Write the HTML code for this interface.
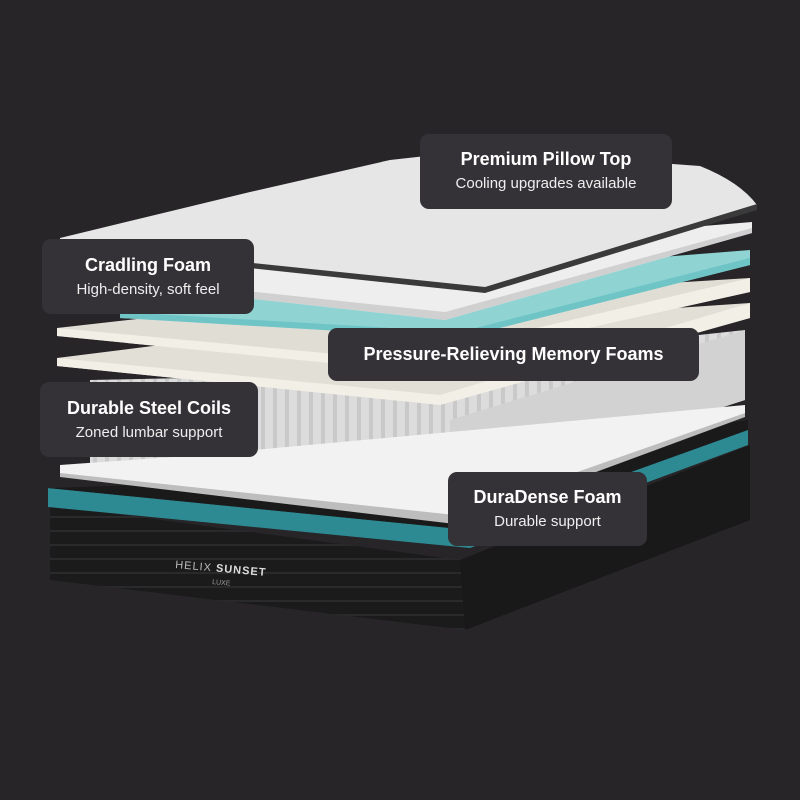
<!DOCTYPE html>
<html><head><meta charset="utf-8"><style>
html,body{margin:0;padding:0;background:#272528;}
.wrap{position:relative;width:800px;height:800px;overflow:hidden;background:#272528;font-family:"Liberation Sans",sans-serif;}
.lab{position:absolute;background:#343236;border-radius:9px;color:#fff;text-align:center;box-sizing:border-box;}
.lab b{display:block;font-size:18px;font-weight:bold;}
.lab span{display:block;font-size:15px;color:#eee;margin-top:5px;}
</style></head><body><div class="wrap">
<svg width="800" height="800" style="position:absolute;left:0;top:0">
<defs>
<pattern id="coil" width="12" height="10" patternUnits="userSpaceOnUse"><rect width="12" height="10" fill="#c9c9c9"/><rect x="1" width="8" height="10" fill="#dcdcdc"/></pattern>
<pattern id="blk" width="10" height="14" patternUnits="userSpaceOnUse"><rect width="10" height="14" fill="#1b1b1c"/><rect y="12" width="10" height="2" fill="#2a2a2c"/></pattern>
</defs>
<polygon points="50,505 460,560 750,445 750,520 465,630 50,580" fill="url(#blk)"/>
<polygon points="460,560 750,445 750,520 465,630" fill="#19191a"/>
<polygon points="48,488 470,530 748,425 748,445 470,548 48,507" fill="#2d8a93"/>
<polygon points="48,488 300,480 748,420 748,430 470,530" fill="#1a1a1b"/>
<text x="175" y="568" fill="#bbb" font-size="11" letter-spacing="1" transform="rotate(5 175 568)">HELIX <tspan font-weight="bold" fill="#ddd">SUNSET</tspan></text>
<text x="212" y="584" fill="#999" font-size="7" transform="rotate(5 212 584)">LUXE</text>
<polygon points="90,380 330,375 745,330 745,400 450,495 90,478" fill="url(#coil)"/>
<polygon points="450,420 745,330 745,400 450,495" fill="#d2d2d2"/>
<polygon points="60,465 200,455 745,405 745,415 455,522 60,475" fill="#f2f2f2"/>
<polygon points="60,473 455,515 745,413 745,417 455,524 60,477" fill="#bdbdbd"/>
<polygon points="57,358 200,340 750,303 750,318 440,405 57,366" fill="#e2dfd6"/>
<polygon points="57,358 440,395 750,303 750,318 440,405 57,366" fill="#f1efe6"/>
<polygon points="57,328 200,312 750,278 750,292 400,370 57,336" fill="#e0ddd4"/>
<polygon points="57,328 400,360 750,278 750,292 400,370 57,336" fill="#f1efe6"/>
<polygon points="120,300 750,250 750,265 460,338 120,318" fill="#8fd3d3"/>
<polygon points="120,312 460,332 750,258 750,265 460,338 120,318" fill="#6fc4c6"/>
<polygon points="190,268 752,222 752,233 445,320 190,292" fill="#eeeeee"/>
<polygon points="190,285 445,312 752,228 752,233 445,320 190,292" fill="#d0d0d0"/>
<path d="M60,238 L250,192 L390,160 L480,150 L700,166 Q740,182 757,205 L485,290 L60,245 Z" fill="#e6e6e6"/>
<polygon points="60,243 485,287 757,204 757,210 485,293 60,248" fill="#3a3a3a"/>
</svg>
<div class="lab" style="left:420px;top:134px;width:252px;height:75px;padding-top:15px"><b>Premium Pillow Top</b><span>Cooling upgrades available</span></div>
<div class="lab" style="left:42px;top:239px;width:212px;height:75px;padding-top:16px"><b>Cradling Foam</b><span>High-density, soft feel</span></div>
<div class="lab" style="left:328px;top:328px;width:371px;height:53px;padding-top:16px"><b>Pressure-Relieving Memory Foams</b></div>
<div class="lab" style="left:40px;top:382px;width:218px;height:75px;padding-top:16px"><b>Durable Steel Coils</b><span>Zoned lumbar support</span></div>
<div class="lab" style="left:448px;top:472px;width:199px;height:74px;padding-top:15px"><b>DuraDense Foam</b><span>Durable support</span></div>
</div></body></html>
